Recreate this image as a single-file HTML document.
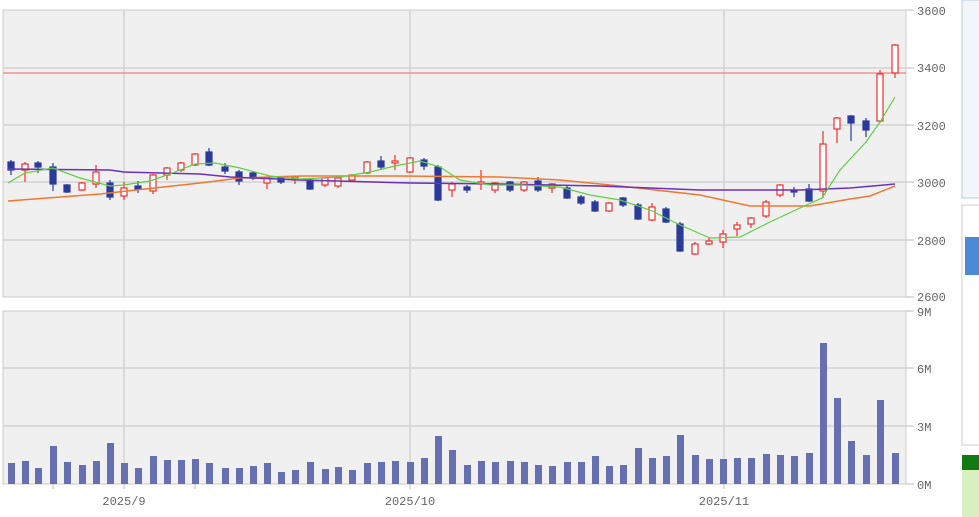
<!DOCTYPE html>
<html><head><meta charset="utf-8"><style>
body{margin:0;width:979px;height:517px;overflow:hidden;background:#fff;font-family:"Liberation Sans",sans-serif}
svg{position:absolute;left:0;top:0}
</style></head><body>
<svg id="s" width="979" height="517" xmlns="http://www.w3.org/2000/svg">
<rect x="3" y="10" width="903" height="287" fill="#f0f0f0" stroke="#ccc"/>
<rect x="3" y="311" width="903" height="173" fill="#f0f0f0" stroke="#ccc"/>
<g stroke="#d2d2d2" stroke-width="1.5">
<line x1="3" y1="68" x2="906" y2="68"/><line x1="3" y1="125" x2="906" y2="125"/><line x1="3" y1="182" x2="906" y2="182"/><line x1="3" y1="240" x2="906" y2="240"/>
<line x1="3" y1="368" x2="906" y2="368"/><line x1="3" y1="426" x2="906" y2="426"/>
<line x1="124" y1="10" x2="124" y2="297"/><line x1="410" y1="10" x2="410" y2="297"/><line x1="724" y1="10" x2="724" y2="297"/>
<line x1="124" y1="311" x2="124" y2="484"/><line x1="410" y1="311" x2="410" y2="484"/><line x1="724" y1="311" x2="724" y2="484"/>
</g>
<g stroke="#bbb"><line x1="906" y1="10" x2="914" y2="10"/><line x1="906" y1="68" x2="914" y2="68"/><line x1="906" y1="125" x2="914" y2="125"/><line x1="906" y1="182" x2="914" y2="182"/><line x1="906" y1="240" x2="914" y2="240"/><line x1="906" y1="297" x2="914" y2="297"/><line x1="906" y1="311" x2="914" y2="311"/><line x1="906" y1="368" x2="914" y2="368"/><line x1="906" y1="426" x2="914" y2="426"/><line x1="906" y1="484" x2="914" y2="484"/>
<line x1="53" y1="484" x2="53" y2="489"/><line x1="195" y1="484" x2="195" y2="489"/><line x1="124" y1="484" x2="124" y2="489"/><line x1="410" y1="484" x2="410" y2="489"/><line x1="724" y1="484" x2="724" y2="489"/></g>
<g font-size="12" fill="#666" font-family="Liberation Mono,monospace">
<text x="917" y="15">3600</text><text x="917" y="72">3400</text><text x="917" y="130">3200</text><text x="917" y="187">3000</text><text x="917" y="245">2800</text><text x="917" y="301">2600</text>
<text x="917" y="316">9M</text><text x="917" y="373">6M</text><text x="917" y="431">3M</text><text x="917" y="489">0M</text>
<text x="124" y="505" text-anchor="middle">2025/9</text><text x="410" y="505" text-anchor="middle">2025/10</text><text x="724" y="505" text-anchor="middle">2025/11</text>
</g>
<line x1="3" y1="73" x2="906" y2="73" stroke="#f08080" stroke-width="1.2"/>
<g id="c"></g>
<polyline fill="none" stroke="#f07830" stroke-width="1.5" points="8,201 100,194 200,183 240,178 300,176 400,176 500,177 560,180 620,186 700,195 750,206 780,206 810,206 850,199 870,196 895,186"/>
<polyline fill="none" stroke="#6a30c0" stroke-width="1.5" points="8,169 110,170 124,172 200,174 230,177 300,180 410,183 500,184 600,186 700,190 800,190 850,188 895,184"/>
<polyline fill="none" stroke="#60d040" stroke-width="1.2" points="8,183 25,173 53,168 80,178 110,186 124,185 150,181 170,174 195,164 215,163 240,168 270,176 300,179 340,177 370,172 395,166 420,161 440,167 460,180 490,185 520,185 560,187 590,195 620,200 650,210 680,225 710,238 740,237 770,222 800,208 822,198 840,170 866,142 880,122 895,97"/>
<rect x="962" y="0" width="20" height="198" fill="#f2f6fb" stroke="#b9cde0"/>
<rect x="962" y="205" width="20" height="240" fill="#fff" stroke="#ccc"/>
<rect x="965" y="237" width="20" height="38" fill="#4a8ad8"/>
<rect x="962" y="455" width="20" height="15" fill="#107a10"/>
<rect x="962" y="470" width="20" height="47" fill="#d8f0c0"/>
</svg>
<script>
var C=[[11,162,170,160,175,0],[25,164,170,162,182,1],[38,163,167,161,173,0],[53,167,184,163,191,0],[67,185,192,184,193,0],[82,183,190,182,191,1],[96,172,184,165,188,1],[110,183,197,180,200,0],[124,188,196,182,200,1],[138,186,189,181,193,0],[153,175,191,174,194,1],[167,168,175,167,180,1],[181,163,170,162,172,1],[195,154,165,153,166,1],[209,152,165,148,166,0],[225,167,171,163,174,0],[239,172,181,170,185,0],[253,173,178,172,180,0],[267,178,183,177,189,1],[281,178,182,177,184,0],[295,177,180,176,184,1],[310,180,189,178,190,0],[325,178,185,177,187,1],[338,178,186,177,188,1],[352,175,180,174,181,1],[367,162,173,161,174,1],[381,161,167,156,170,0],[395,161,163,155,170,1],[410,158,172,157,173,1],[424,160,166,158,170,0],[438,167,200,165,201,0],[452,184,190,182,197,1],[467,187,190,185,193,0],[481,182,184,170,190,1],[495,183,190,182,193,1],[510,182,190,181,192,0],[524,182,190,181,192,1],[538,181,190,177,192,0],[552,184,188,183,193,1],[567,188,198,186,199,0],[581,197,203,195,205,0],[595,202,211,200,212,0],[609,203,211,202,212,1],[623,198,205,197,207,0],[638,205,219,203,220,0],[652,207,220,203,221,1],[666,209,222,207,223,0],[680,224,251,222,252,0],[695,244,254,242,255,1],[709,241,244,237,245,1],[723,234,242,230,248,1],[737,225,229,222,236,1],[751,218,224,217,228,1],[766,202,216,200,218,1],[780,185,195,184,197,1],[794,190,192,187,197,0],[809,189,201,184,202,0],[823,144,191,131,198,1],[837,118,129,117,143,1],[851,116,123,115,141,0],[866,121,130,118,137,0],[880,74,121,70,123,1],[895,45,73,44,78,1]];
var V=[463,461,468,446,462,465,461,443,463,468,456,460,460,459,463,468,468,466,463,472,470,462,469,467,470,463,462,461,462,458,436,450,465,461,462,461,462,465,466,462,462,456,466,465,448,458,456,435,455,459,459,458,458,454,455,456,453,343,398,441,455,400,453];
var h='';
C.forEach(function(c,i){var col=c[5]?'#f03030':'#2a3a9a';
h+='<line x1="'+c[0]+'" y1="'+c[3]+'" x2="'+c[0]+'" y2="'+c[4]+'" stroke="'+col+'" stroke-width="1.2"/>';
h+='<rect x="'+(c[0]-3)+'" y="'+c[1]+'" width="6" height="'+Math.max(2,c[2]-c[1])+'" fill="'+(c[5]?'#fff':col)+'" stroke="'+col+'" stroke-width="1.2"/>';
h+='<rect x="'+(c[0]-3)+'" y="'+V[i]+'" width="7" height="'+(484-V[i])+'" fill="#6670b0"/>';});
document.getElementById('c').innerHTML=h;
</script>
</body></html>
